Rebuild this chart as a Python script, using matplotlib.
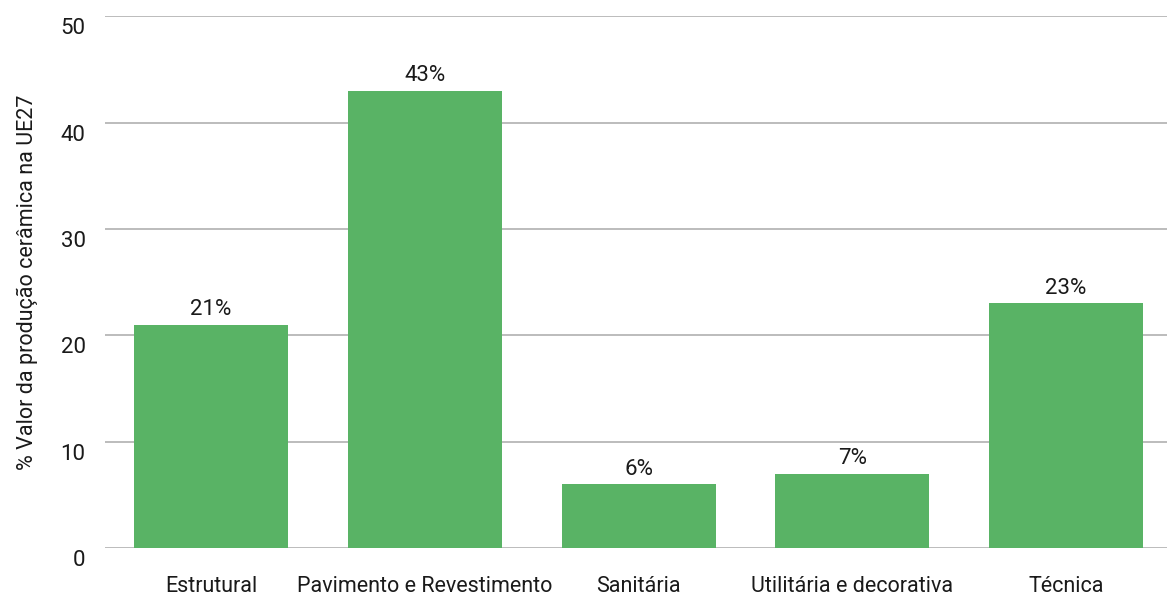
import matplotlib
matplotlib.use("Agg")
import matplotlib.pyplot as plt
import matplotlib.transforms as mtransforms

categories = ["Estrutural", "Pavimento e Revestimento", "Sanitária",
              "Utilitária e decorativa", "Técnica"]
values = [21, 43, 6, 7, 23]
yticks = [0, 10, 20, 30, 40, 50]

bar_color = "#59b365"
grid_color = "#b0b0b0"
text_color = "#1a1a1a"

plt.rcParams["font.family"] = ["Roboto", "DejaVu Sans"]

fig = plt.figure(figsize=(11.67, 5.97), dpi=100)
ax = fig.add_axes([0.09, 0.082, 0.91, 0.891])

x = list(range(len(categories)))
ax.bar(x, values, width=0.72, color=bar_color, zorder=3)

for xi, v in zip(x, values):
    ax.annotate(f"{v}%", (xi, v), xytext=(0, 3), textcoords="offset points",
                ha="center", va="bottom", fontsize=16, color=text_color)

ax.set_xlim(-0.496, 4.472)
ax.set_ylim(0, 50)
ax.set_yticks(yticks)
ax.set_xticks(x)
ax.set_xticklabels(categories, fontsize=15.5)
ax.tick_params(axis="both", length=0, colors=text_color)
ax.tick_params(axis="y", labelsize=16, pad=14)
ax.tick_params(axis="x", pad=20)

# shift y tick labels slightly below their gridlines
offset = mtransforms.ScaledTranslation(0, -10 / 100, fig.dpi_scale_trans)
for lbl in ax.get_yticklabels():
    lbl.set_transform(lbl.get_transform() + offset)

ax.yaxis.grid(True, color=grid_color, linewidth=1.2, zorder=0)
for s in ax.spines.values():
    s.set_visible(False)

ax.set_ylabel("% Valor da produção cerâmica na UE27", fontsize=15.5,
              color=text_color, labelpad=16)

fig.savefig("out.png", dpi=100)
